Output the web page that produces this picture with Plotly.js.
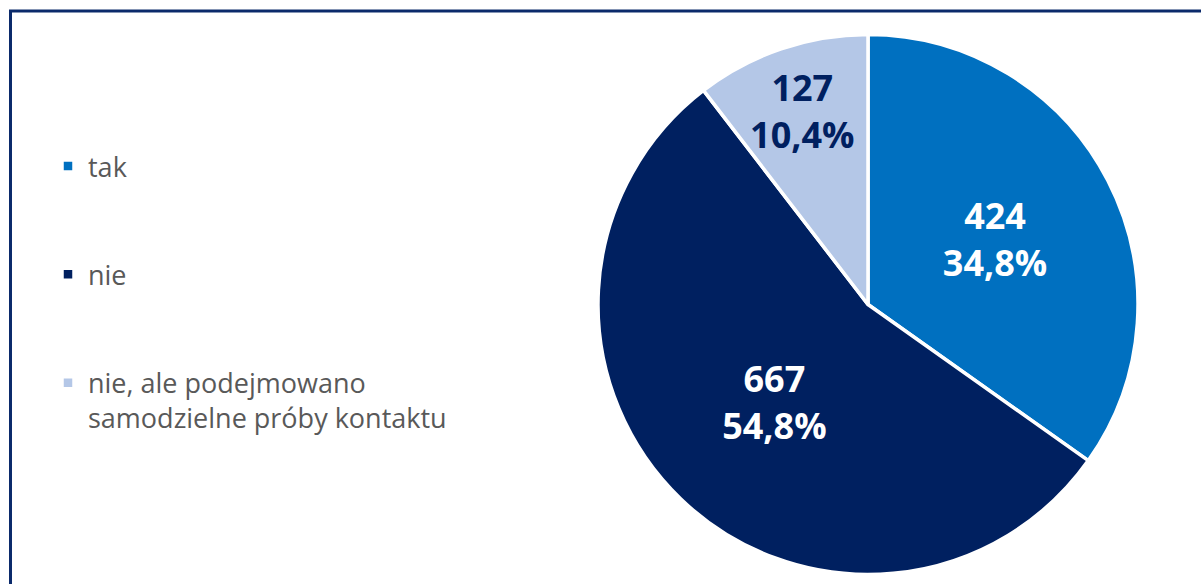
<!DOCTYPE html>
<html>
<head>
<meta charset="utf-8">
<script src="https://cdn.plot.ly/plotly-3.0.1.min.js"></script>
<style>html,body{margin:0;padding:0;background:#fff}#chart{width:1201px;height:584px}</style>
</head>
<body>
<div id="chart"></div>
<script>
const categories = ["tak", "nie", "nie, ale podejmowano<br>samodzielne próby kontaktu"];
const counts = [424, 667, 127];
const percentLabels = ["34,8%", "54,8%", "10,4%"];
const colors = ["#0070C0", "#002060", "#B4C7E7"];
const textColors = ["#FFFFFF", "#FFFFFF", "#002060"];

// legend labels padded with blank lines so items are spaced like the reference
const legendLabels = categories.map((c, i) => c + (i < 2 ? "<br> <br> " : ""));
const sliceText = counts.map((v, i) => v + "<br>" + percentLabels[i]);

const W = 1201, H = 584;
const trace = {
  type: "pie",
  labels: legendLabels,
  values: counts,
  text: sliceText,
  textinfo: "text",
  texttemplate: "%{text}",
  textposition: "inside",
  insidetextorientation: "horizontal",
  sort: false,
  direction: "clockwise",
  rotation: 0,
  marker: { colors: colors, line: { color: "#FFFFFF", width: 3.5 } },
  insidetextfont: { family: "Open Sans, sans-serif", size: 36, color: textColors, weight: 700 },
  hoverinfo: "none",
  domain: { x: [598 / W, 1138 / W], y: [1 - 575 / H, 1 - 34 / H] }
};

const layout = {
  width: W, height: H,
  margin: { l: 0, r: 0, t: 0, b: 0 },
  paper_bgcolor: "#FFFFFF",
  showlegend: true,
  uniformtext: { minsize: 36, mode: "show" },
  legend: {
    x: 48 / W, xanchor: "left",
    y: 1 - 142 / H, yanchor: "top",
    valign: "top",
    font: { family: "Open Sans, sans-serif", size: 27, color: "#595959" },
    bgcolor: "rgba(0,0,0,0)",
    itemclick: false
  },
  shapes: [
    { type: "line", xref: "paper", yref: "paper", x0: 10.5 / W, x1: 10.5 / W, y0: 0, y1: 1 - 10 / H,
      line: { color: "#0B2A6B", width: 3 } },
    { type: "line", xref: "paper", yref: "paper", x0: 9 / W, x1: 1, y0: 1 - 11 / H, y1: 1 - 11 / H,
      line: { color: "#0B2A6B", width: 3 } }
  ]
};

Plotly.newPlot("chart", [trace], layout, { staticPlot: true, displayModeBar: false });
</script>
</body>
</html>
